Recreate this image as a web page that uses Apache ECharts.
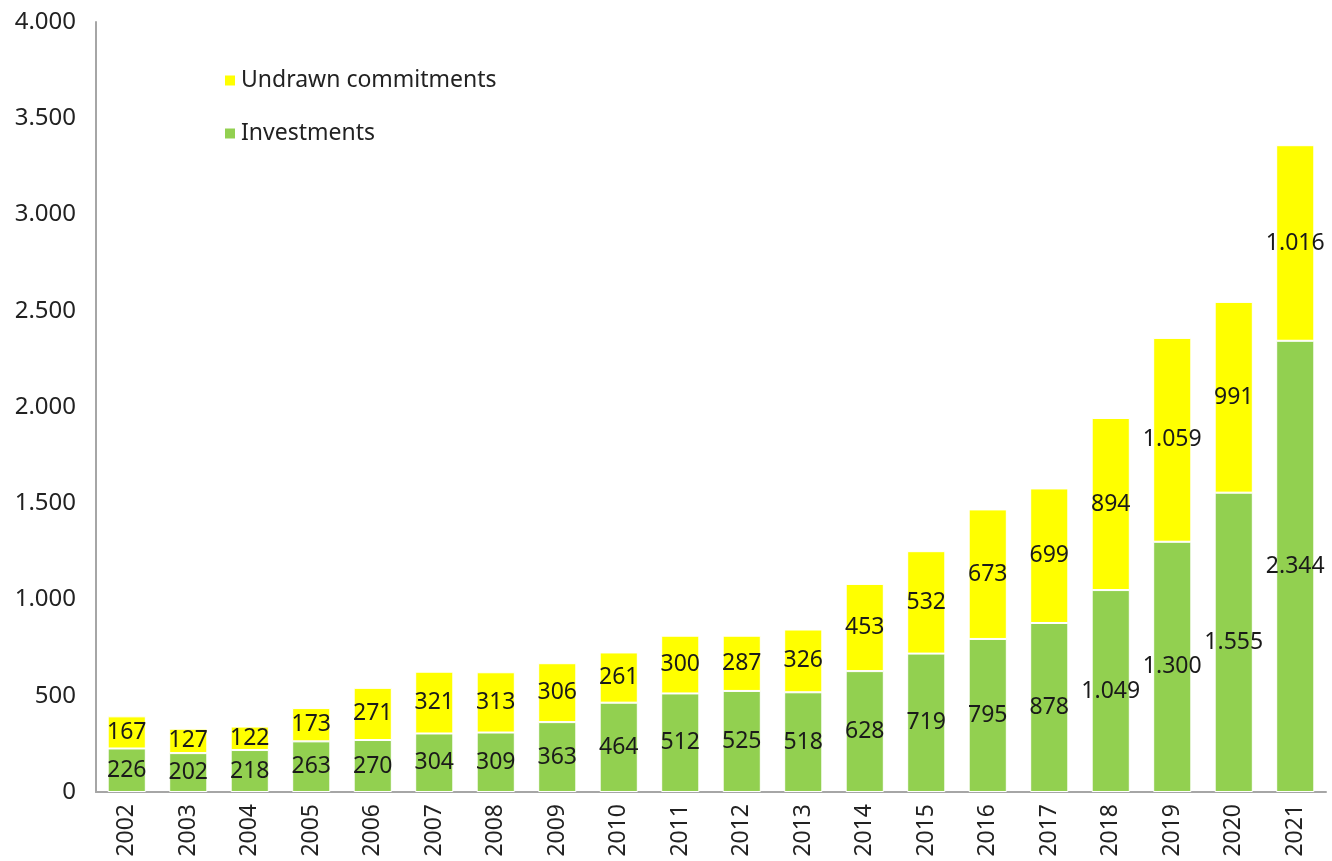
<!DOCTYPE html>
<html>
<head>
<meta charset="utf-8">
<script src="https://cdn.jsdelivr.net/npm/echarts@6/dist/echarts.min.js"></script>
<style>
  html, body { margin: 0; padding: 0; background: #fff; }
  #main { width: 1332px; height: 861px; }
</style>
</head>
<body>
<div id="main"></div>
<script>
var myChart = echarts.init(document.getElementById('main'));

var years = ['2002', '2003', '2004', '2005', '2006', '2007', '2008', '2009', '2010', '2011',
  '2012', '2013', '2014', '2015', '2016', '2017', '2018', '2019', '2020', '2021'];
var investments = [226, 202, 218, 263, 270, 304, 309, 363, 464, 512,
  525, 518, 628, 719, 795, 878, 1049, 1300, 1555, 2344];
var undrawn = [167, 127, 122, 173, 271, 321, 313, 306, 261, 300,
  287, 326, 453, 532, 673, 699, 894, 1059, 991, 1016];

// 4.000 style: dot as thousands separator
function fmt(v) {
  return String(v).replace(/\B(?=(\d{3})+(?!\d))/g, '.');
}

var font = 'Noto Sans';

var option = {
  animation: false,
  legend: {
    orient: 'vertical',
    left: 218,
    top: 64,
    itemGap: 30,
    itemWidth: 12,
    itemHeight: 12,
    icon: 'rect',
    data: ['Undrawn commitments', 'Investments'],
    textStyle: { fontSize: 23, fontFamily: font, color: '#222' }
  },
  grid: {
    left: 96,
    right: 6,
    top: 22,
    bottom: 69,
    containLabel: false
  },
  xAxis: {
    type: 'category',
    data: years,
    axisLine: { lineStyle: { color: '#a6a6a6', width: 2 } },
    axisTick: { show: false },
    axisLabel: {
      rotate: 90,
      interval: 0,
      margin: 12,
      fontSize: 23,
      fontFamily: font,
      color: '#222'
    }
  },
  yAxis: {
    type: 'value',
    min: 0,
    max: 4000,
    interval: 500,
    axisLine: { show: true, lineStyle: { color: '#a6a6a6', width: 2 } },
    axisTick: { show: false },
    splitLine: { show: false },
    axisLabel: {
      margin: 20,
      fontSize: 24,
      fontFamily: font,
      color: '#222',
      formatter: fmt
    }
  },
  series: [
    {
      name: 'Investments',
      type: 'bar',
      stack: 'total',
      barWidth: '62%',
      data: investments,
      itemStyle: { color: '#92d050', borderColor: '#fff', borderWidth: 1 },
      label: {
        show: true,
        position: 'inside',
        fontSize: 23,
        fontFamily: font,
        color: '#1a1a1a',
        formatter: function (p) { return fmt(p.value); }
      }
    },
    {
      name: 'Undrawn commitments',
      type: 'bar',
      stack: 'total',
      barWidth: '62%',
      data: undrawn,
      itemStyle: { color: '#ffff00', borderColor: '#fff', borderWidth: 1 },
      label: {
        show: true,
        position: 'inside',
        fontSize: 23,
        fontFamily: font,
        color: '#1a1a1a',
        formatter: function (p) { return fmt(p.value); }
      }
    }
  ]
};

option && myChart.setOption(option);
</script>
</body>
</html>
